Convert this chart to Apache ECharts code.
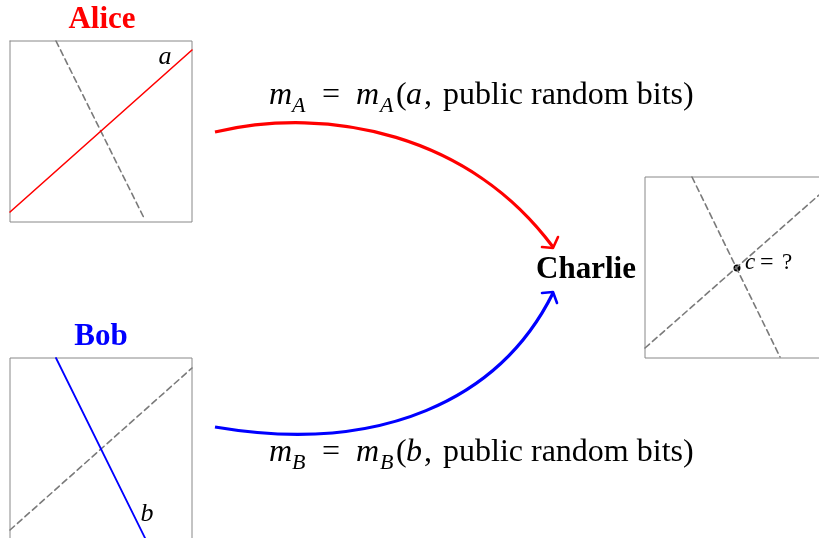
<!DOCTYPE html>
<html>
<head>
<meta charset="utf-8">
<script src="https://cdn.jsdelivr.net/npm/echarts@6/dist/echarts.min.js"></script>
<style>
html, body { margin: 0; padding: 0; background: #fff; }
#main { width: 819px; height: 538px; }
</style>
</head>
<body>
<div id="main"></div>
<script>
// diagram geometry, in picture pixels (y grows downward)
var aliceBox = [[10, 41], [192, 41], [192, 222], [10, 222], [10, 41]];
var aliceLine = [[10, 212], [192, 50]];
var aliceDash = [[56, 41], [145, 220]];
var bobBox = [[10, 545], [10, 358], [192, 358], [192, 545]];
var bobLine = [[56, 358], [146, 540]];
var bobDash = [[10, 530], [192, 368]];
var charlieBox = [[830, 177], [645, 177], [645, 358], [830, 358]];
var charlieDash1 = [[692, 177], [780, 357]];
var charlieDash2 = [[645, 348], [819, 195]];
var charliePoint = [[737, 268]];
// message arrows: start, control 1, control 2, end
var redCurve = [215, 132, 330, 105, 470, 135, 553, 247];
var blueCurve = [215, 427, 380, 455, 500, 400, 553, 293];
var redHead = [[542, 247], [553, 248], [558, 237]];
var blueHead = [[542, 293], [553, 292], [557, 303]];

var serif = '"Liberation Serif", "DejaVu Serif", serif';
var gray = '#7a7a7a';

function seg(data, color, width, dashed) {
    return {
        type: 'line',
        data: data,
        symbol: 'none',
        silent: true,
        lineStyle: {
            color: color,
            width: width,
            type: dashed ? [6, 4] : 'solid',
            cap: 'round',
            join: 'round'
        }
    };
}

function curve(points, color) {
    return {
        type: 'custom',
        silent: true,
        data: [points],
        renderItem: function (params, api) {
            var p0 = api.coord([api.value(0), api.value(1)]);
            var c1 = api.coord([api.value(2), api.value(3)]);
            var c2 = api.coord([api.value(4), api.value(5)]);
            var p1 = api.coord([api.value(6), api.value(7)]);
            return {
                type: 'bezierCurve',
                shape: {
                    x1: p0[0], y1: p0[1], cpx1: c1[0], cpy1: c1[1],
                    cpx2: c2[0], cpy2: c2[1], x2: p1[0], y2: p1[1]
                },
                style: { stroke: color, lineWidth: 3.2, fill: null, lineCap: 'butt' }
            };
        }
    };
}

// one piece of text, x = left edge, y = middle
function txt(str, x, y, size, opts) {
    opts = opts || {};
    return {
        type: 'text', x: x, y: y, silent: true,
        style: {
            text: str,
            fill: opts.color || '#000',
            font: (opts.italic ? 'italic ' : '') + (opts.bold ? 'bold ' : '') + size + 'px ' + serif,
            align: opts.align || 'left',
            verticalAlign: 'middle'
        }
    };
}

function formula(sub, arg, y) {
    var it = { italic: true };
    return [
        txt('m', 269, y, 32, it),
        txt(sub, 292, y + 10.3, 22, it),
        txt('=', 322, y, 32),
        txt('m', 356, y, 32, it),
        txt(sub, 380, y + 10.3, 22, it),
        txt('(', 396, y, 32),
        txt(arg, 406, y, 32, it),
        txt(',', 424, y, 32),
        txt('public random bits)', 443, y, 32)
    ];
}

var labels = [
    txt('Alice', 102, 19.5, 31, { bold: true, color: '#ff0000', align: 'center' }),
    txt('Bob', 101, 336.5, 31, { bold: true, color: '#0000ff', align: 'center' }),
    txt('Charlie', 586, 269.5, 31, { bold: true, align: 'center' }),
    txt('a', 165, 57, 26, { italic: true, align: 'center' }),
    txt('b', 147, 514, 26, { italic: true, align: 'center' }),
    txt('c', 745, 263, 23, { italic: true }),
    txt('=', 760, 263, 24),
    txt('?', 782, 263, 23)
];

var myChart = echarts.init(document.getElementById('main'));
var option = {
    backgroundColor: '#fff',
    animation: false,
    grid: { left: 0, right: 0, top: 0, bottom: 0 },
    xAxis: { type: 'value', min: 0, max: 819, show: false },
    yAxis: { type: 'value', min: 0, max: 538, inverse: true, show: false },
    series: [
        seg(aliceBox, '#888', 1),
        seg(bobBox, '#888', 1),
        seg(charlieBox, '#888', 1),
        seg(aliceDash, gray, 1.6, true),
        seg(bobDash, gray, 1.6, true),
        seg(charlieDash1, gray, 1.6, true),
        seg(charlieDash2, gray, 1.6, true),
        seg(aliceLine, '#ff0000', 1.6),
        seg(bobLine, '#0000ff', 1.8),
        curve(redCurve, '#ff0000'),
        seg(redHead, '#ff0000', 2.6),
        curve(blueCurve, '#0000ff'),
        seg(blueHead, '#0000ff', 2.6),
        {
            type: 'scatter',
            data: charliePoint,
            symbol: 'circle',
            symbolSize: 7,
            silent: true,
            itemStyle: { color: '#000', opacity: 1 }
        }
    ],
    graphic: labels.concat(formula('A', 'a', 96), formula('B', 'b', 452.7))
};
myChart.setOption(option);
</script>
</body>
</html>
